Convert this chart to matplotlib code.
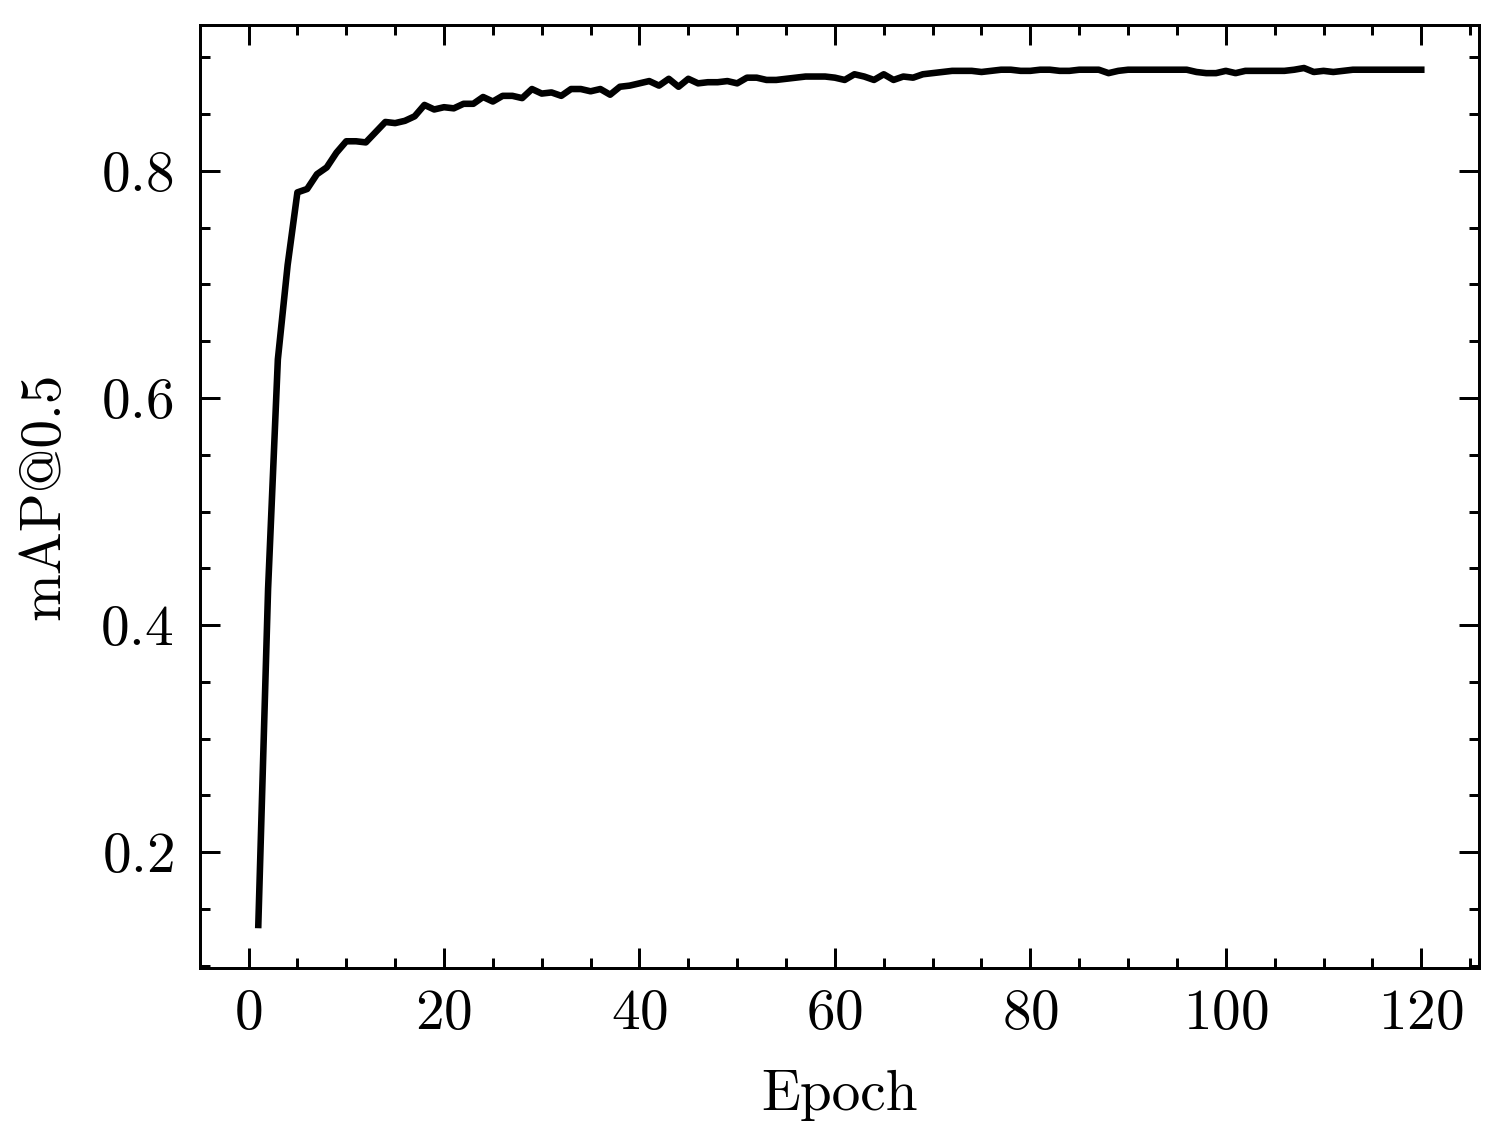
import numpy as np
import matplotlib
matplotlib.use("Agg")
import matplotlib.pyplot as plt
from matplotlib.ticker import MultipleLocator

# mAP@0.5 per epoch
epochs = np.arange(1, 121)
map50 = [
    0.136, 0.432, 0.634, 0.717, 0.781, 0.784, 0.797, 0.803, 0.816, 0.826,
    0.826, 0.825, 0.834, 0.843, 0.842, 0.844, 0.848, 0.858, 0.854, 0.856,
    0.855, 0.859, 0.859, 0.865, 0.861, 0.866, 0.866, 0.864, 0.872, 0.868,
    0.869, 0.866, 0.872, 0.872, 0.870, 0.872, 0.867, 0.874, 0.875, 0.877,
    0.879, 0.875, 0.881, 0.874, 0.881, 0.877, 0.878, 0.878, 0.879, 0.877,
    0.882, 0.882, 0.880, 0.880, 0.881, 0.882, 0.883, 0.883, 0.883, 0.882,
    0.880, 0.885, 0.883, 0.880, 0.885, 0.880, 0.883, 0.882, 0.885, 0.886,
    0.887, 0.888, 0.888, 0.888, 0.887, 0.888, 0.889, 0.889, 0.888, 0.888,
    0.889, 0.889, 0.888, 0.888, 0.889, 0.889, 0.889, 0.886, 0.888, 0.889,
    0.889, 0.889, 0.889, 0.889, 0.889, 0.889, 0.887, 0.886, 0.886, 0.888,
    0.886, 0.888, 0.888, 0.888, 0.888, 0.888, 0.889, 0.8905, 0.887, 0.888,
    0.887, 0.888, 0.889, 0.889, 0.889, 0.889, 0.889, 0.889, 0.889, 0.889,
]

plt.rcParams["font.family"] = ["cmr10", "DejaVu Serif"]
plt.rcParams["mathtext.fontset"] = "cm"
plt.rcParams["axes.formatter.use_mathtext"] = True
plt.rcParams["font.size"] = 9.6
plt.rcParams["axes.linewidth"] = 0.5

fig = plt.figure(figsize=(1505 / 430, 1144 / 430), dpi=430)
ax = fig.add_axes([0.133, 0.154, 0.850, 0.824])

ax.plot(epochs, map50, color="black", linewidth=1.1)

ax.xaxis.set_major_locator(MultipleLocator(20))
ax.xaxis.set_minor_locator(MultipleLocator(5))
ax.yaxis.set_major_locator(MultipleLocator(0.2))
ax.yaxis.set_minor_locator(MultipleLocator(0.05))
ax.tick_params(which="both", direction="in", top=True, right=True, width=0.5)
ax.tick_params(which="major", length=3.3)
ax.tick_params(which="minor", length=1.7)
ax.tick_params(axis="y", which="major", pad=4.4)

ax.set_xlabel("Epoch", labelpad=5)
ax.set_ylabel("mAP@0.5", labelpad=5)

plt.savefig("out.png", dpi=430)
